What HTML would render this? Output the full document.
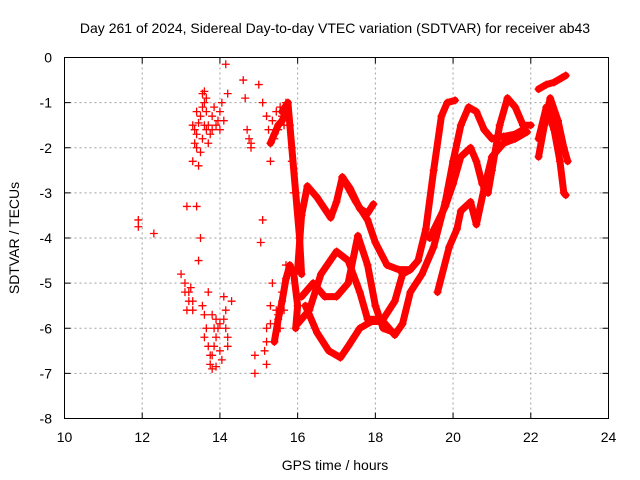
<!DOCTYPE html>
<html><head><meta charset="utf-8"><style>
body{margin:0;background:#fff;}
svg{display:block;font-family:"Liberation Sans",sans-serif;}
</style></head><body>
<svg id="chart" width="640" height="480">
<rect width="640" height="480" fill="#fff"/>
<text x="335" y="33" font-size="14" text-anchor="middle">Day 261 of 2024, Sidereal Day-to-day VTEC variation (SDTVAR) for receiver ab43</text>
<g id="grid"></g>
<g id="marks"></g>
<rect x="64.5" y="57.5" width="544" height="361" fill="none" stroke="#000" stroke-width="1"/>
<g id="ticks"></g>
<text x="335" y="470" font-size="14" text-anchor="middle">GPS time / hours</text>
<text transform="translate(19,238) rotate(-90)" font-size="14" text-anchor="middle">SDTVAR / TECUs</text>
</svg>
<script>
const xTicks=[10,12,14,16,18,20,22,24];
const yTicks=[0,-1,-2,-3,-4,-5,-6,-7,-8];
const track1=[[16.0,-4.7],[16.1,-3.5],[16.25,-2.85],[16.5,-3.1],[16.85,-3.55],[17.0,-3.2],[17.15,-2.65],[17.35,-2.9],[17.6,-3.35],[17.8,-3.45],[17.95,-3.25]];
const track2=[[17.15,-2.65],[17.5,-3.2],[17.8,-3.6],[18.0,-4.1],[18.3,-4.6],[18.6,-4.7],[18.9,-4.7],[19.1,-4.5],[19.3,-3.8],[19.5,-2.5],[19.7,-1.3],[19.85,-1.0],[20.05,-0.95]];
const track3=[[16.2,-5.5],[16.5,-6.1],[16.8,-6.5],[17.1,-6.65],[17.3,-6.4],[17.6,-6.0],[17.9,-5.85],[18.2,-5.85],[18.5,-6.15],[18.7,-5.9],[18.9,-5.2],[19.2,-4.8],[19.5,-4.2],[19.8,-3.2],[20.0,-2.3],[20.2,-1.5],[20.4,-1.1],[20.6,-1.2],[20.8,-1.6],[21.0,-1.8],[21.3,-1.75],[21.6,-1.7],[21.8,-1.6]];
const track4=[[16.1,-5.3],[16.4,-5.0],[16.7,-5.3],[17.0,-5.3],[17.3,-5.0],[17.55,-3.95],[17.8,-4.6],[18.0,-5.5],[18.2,-6.0],[18.5,-6.1]];
const track5=[[16.0,-5.9],[16.3,-5.6],[16.6,-4.8],[17.0,-4.3],[17.3,-4.5],[17.6,-5.2],[17.8,-5.8],[18.2,-5.8],[18.5,-5.4],[18.7,-4.8],[18.9,-4.7]];
const track6=[[19.6,-5.2],[19.9,-4.2],[20.1,-3.8],[20.2,-3.4],[20.45,-3.2],[20.6,-3.7],[20.8,-2.9],[21.0,-2.2],[21.3,-1.9],[21.6,-1.8],[21.9,-1.65]];
const track7=[[19.4,-4.0],[19.8,-3.3],[20.0,-2.8],[20.2,-2.2],[20.45,-2.0],[20.6,-2.3],[20.75,-2.8],[20.9,-3.0],[21.0,-2.5],[21.2,-1.5],[21.4,-0.9],[21.6,-1.1],[21.8,-1.5],[22.0,-1.5]];
const track8=[[22.2,-0.7],[22.4,-0.6],[22.6,-0.55],[22.8,-0.45],[22.9,-0.4]];
const track9=[[22.2,-1.8],[22.4,-1.1],[22.6,-1.6],[22.75,-2.3],[22.85,-3.0],[22.9,-3.05]];
const track10=[[22.2,-2.2],[22.35,-1.5],[22.5,-0.9],[22.7,-1.4],[22.85,-2.0],[22.95,-2.3]];
const track11=[[15.6,-1.2],[15.75,-1.0],[15.85,-2.0],[15.95,-3.0],[16.05,-4.0],[16.1,-4.8]];
const track12=[[15.4,-6.3],[15.5,-5.8],[15.6,-5.4],[15.7,-4.9],[15.8,-4.6],[15.9,-4.8],[16.0,-5.5],[15.95,-6.0]];
const track13=[[15.3,-1.9],[15.4,-1.7],[15.5,-1.5],[15.6,-1.4],[15.7,-1.2]];
const scatter=[[11.9,-3.6],[11.9,-3.75],[12.3,-3.9],[13.0,-4.8],[13.1,-5.0],[13.15,-3.3],[13.2,-5.4],[13.3,-5.6],[13.3,-2.3],[13.35,-1.6],[13.4,-1.7],[13.45,-2.4],[13.5,-1.3],[13.55,-0.8],[13.6,-1.5],[13.65,-1.2],[13.7,-1.9],[13.75,-6.8],[13.8,-6.6],[13.85,-6.0],[13.9,-5.8],[13.55,-5.5],[13.6,-6.2],[13.5,-4.0],[13.45,-4.5],[13.4,-3.3],[13.95,-1.4],[14.0,-1.2],[14.05,-1.0],[14.15,-0.15],[14.1,-5.3],[14.15,-5.6],[14.2,-6.2],[14.0,-6.5],[14.05,-6.7],[13.9,-6.85],[14.6,-0.5],[14.65,-0.9],[14.7,-1.6],[14.8,-1.9],[14.9,-6.6],[14.9,-7.0],[15.0,-0.6],[15.05,-4.1],[15.1,-3.6],[15.15,-6.5],[15.2,-6.8],[15.2,-6.0],[15.3,-5.5],[15.35,-5.0],[15.3,-2.3],[15.4,-1.8],[15.5,-1.6],[15.6,-1.3],[15.7,-1.0],[15.8,-1.5],[15.85,-2.3],[15.9,-3.0],[15.5,-5.7],[15.6,-5.2],[15.7,-4.6],[15.4,-6.3],[15.1,-1.0],[15.2,-1.3],[13.3,-1.5],[13.4,-1.2],[13.6,-1.0],[13.8,-1.6],[13.5,-2.1],[13.7,-5.2],[13.8,-5.7],[13.2,-5.2],[14.1,-1.4],[14.2,-0.8],[14.3,-5.4],
[13.35,-1.9],[13.45,-1.45],[13.55,-1.1],[13.6,-0.75],[13.65,-0.9],[13.7,-1.5],[13.75,-1.7],[13.8,-1.3],[13.85,-1.1],[13.9,-1.5],[14.0,-1.6],[13.55,-1.8],[13.65,-1.6],[13.4,-2.0],
[13.1,-5.2],[13.15,-5.6],[13.25,-5.1],[13.3,-5.4],[13.6,-5.7],[13.65,-6.0],[13.7,-6.4],[13.75,-6.6],[13.85,-6.4],[13.9,-6.2],[13.95,-6.0],[14.0,-5.9],[14.1,-5.8],[14.15,-6.0],[14.2,-6.4],[13.8,-6.9],
[14.75,-1.8],[14.8,-2.0],[15.25,-1.6],[15.35,-1.4],[15.45,-1.2],[15.55,-1.1],[15.65,-1.5],[15.2,-6.3],[15.3,-5.9],[15.45,-5.6],[15.55,-6.0],[15.65,-5.6]];
const tracks=[track1,track2,track3,track4,track5,track6,track7,track8,track9,track10,track11,track12,track13];
const X0=64.5,X1=608.5,Y0=57.5,Y1=418.5;
const sx=h=>X0+(h-10)/14*(X1-X0);
const sy=v=>Y0+(0-v)/8*(Y1-Y0);
const NS="http://www.w3.org/2000/svg";
const grid=document.getElementById('grid'),ticks=document.getElementById('ticks'),marks=document.getElementById('marks');
function mk(tag,attrs,parent){const e=document.createElementNS(NS,tag);for(const k in attrs)e.setAttribute(k,attrs[k]);parent.appendChild(e);return e;}
xTicks.forEach(t=>{const x=sx(t);
 if(t>10&&t<24){const g=mk('line',{x1:x,x2:x,y1:Y0,y2:Y1,stroke:'#a0a0a0','stroke-dasharray':'2,3'},grid);
 
 }
 mk('line',{x1:x,x2:x,y1:Y1,y2:Y1-6,stroke:'#000'},ticks);mk('line',{x1:x,x2:x,y1:Y0,y2:Y0+6,stroke:'#000'},ticks);
 const l=mk('text',{x:x,y:442,'font-size':14,'text-anchor':'middle'},ticks);l.textContent=t;
 
 });
yTicks.forEach(t=>{const y=sy(t);
 if(t<0&&t>-8){const g=mk('line',{x1:X0,x2:X1,y1:y,y2:y,stroke:'#a0a0a0','stroke-dasharray':'2,3'},grid);
 
 }
 mk('line',{x1:X0,x2:X0+6,y1:y,y2:y,stroke:'#000'},ticks);mk('line',{x1:X1,x2:X1-6,y1:y,y2:y,stroke:'#000'},ticks);
 const l=mk('text',{x:52,y:y+5,'font-size':14,'text-anchor':'end'},ticks);l.textContent=t;
 
 });
function plus(h,v){const x=sx(h),y=sy(v);
 const p=mk('path',{d:`M${x-4},${y}h8M${x},${y-4}v8`,stroke:'#f00','stroke-width':1.3},marks);
 
 }
tracks.forEach(tr=>{
 const pl=mk('polyline',{points:tr.map(p=>sx(p[0])+','+sy(p[1])).join(' '),fill:'none',stroke:'#f00','stroke-width':7,'stroke-linejoin':'round','stroke-linecap':'round'},marks);
 
 
 tr.forEach(p=>plus(p[0],p[1]));});
scatter.forEach(p=>plus(p[0],p[1]));
</script>
</body></html>
